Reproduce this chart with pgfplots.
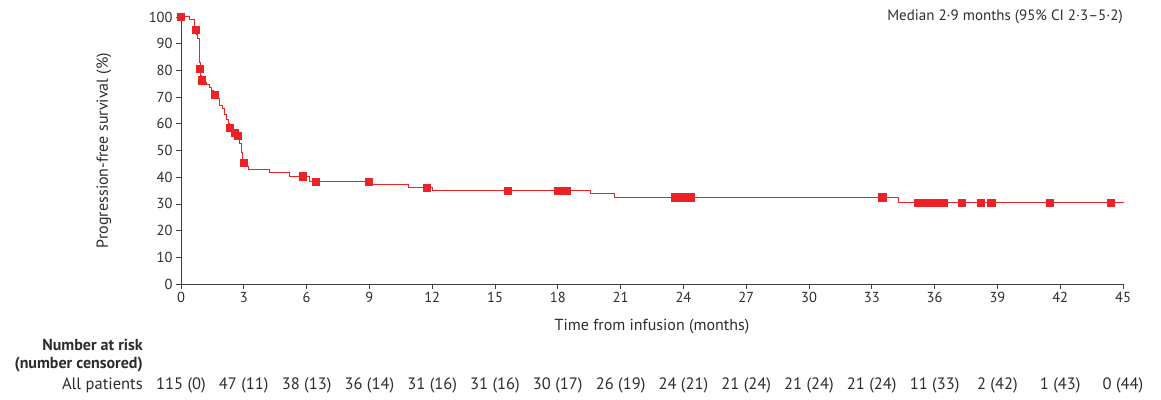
\documentclass[border=0pt]{standalone}
\usepackage{fontspec}
\setmainfont{PT Sans}
\usepackage{pgfplots}
\pgfplotsset{compat=1.18}
\definecolor{kmred}{RGB}{236,34,39}
\definecolor{axgray}{RGB}{64,64,64}
\definecolor{txt}{RGB}{45,45,45}
\newcommand{\tfont}{\fontsize{16.5}{19}\selectfont}
\newcommand{\risk}[2]{\node[anchor=center,text=txt,inner sep=0pt,font=\tfont] at ([yshift=-101pt]axis cs:#1,0) {#2};}
\begin{document}
\begin{tikzpicture}[font=\fontsize{14.5}{17}\selectfont]
\begin{axis}[
  scale only axis, width=942pt, height=267pt,
  xmin=0, xmax=45, ymin=0, ymax=100,
  axis lines=left, axis line style={axgray, line width=0.8pt, -},
  xtick={0,3,...,45}, ytick={0,10,...,100},
  tick align=outside, major tick length=5pt,
  tick style={axgray, line width=0.8pt},
  every tick label/.append style={text=txt, font=\fontsize{14.5}{17}\selectfont},
  /pgf/number format/assume math mode=true,
  xlabel={Time from infusion (months)},
  ylabel={Progression-free survival (\%)},
  xlabel style={at={(axis description cs:0.5,0)}, anchor=center, yshift=-43pt, text=txt, font=\fontsize{16}{18}\selectfont},
  ylabel style={at={(axis description cs:-0.0817,0.5)}, anchor=center, text=txt, font=\fontsize{16}{18}\selectfont},
  clip=false,
]
\addplot[kmred, line width=1pt, const plot mark left, mark=none] table {
x y
0 100
0.40 99.0
0.64 95.2
0.75 93.5
0.80 92
0.86 90.5
0.88 87
0.90 83
0.91 80.6
0.95 78
0.99 76.3
1.07 75.6
1.23 74.6
1.35 73.7
1.45 72.5
1.55 71.7
1.60 70.8
1.78 69.3
1.86 67.0
1.99 65.8
2.10 63.6
2.18 61.7
2.28 60.0
2.32 58.6
2.50 57.6
2.56 56.6
2.66 55.4
2.80 52.8
2.88 49.1
2.95 45.3
3.13 44.0
3.23 42.8
4.22 41.8
5.16 40.4
6.16 38.3
9.10 37.3
10.86 36.2
12.00 35.0
19.54 33.8
20.70 32.5
34.27 30.6
45.05 30.6
};
\addplot[only marks, mark=square*, mark size=3.6pt, mark options={fill=kmred, draw=kmred}] table {
x y
0 100
0.70 95.2
0.91 80.6
0.99 76.3
1.62 70.8
2.34 58.6
2.58 56.6
2.71 55.4
3.01 45.3
5.81 40.4
6.43 38.3
8.98 38.3
11.74 36.2
15.60 35.0
17.98 35.0
18.40 35.0
23.60 32.5
23.85 32.5
24.10 32.5
24.35 32.5
33.50 32.5
35.20 30.6
35.45 30.6
35.70 30.6
35.95 30.6
36.20 30.6
36.45 30.6
37.30 30.6
38.20 30.6
38.70 30.6
41.50 30.6
44.40 30.6
};
\node[anchor=east, inner sep=0pt, text=txt, font=\fontsize{15}{18}\selectfont] at (axis cs:45,100) {Median 2·9 months (95\% CI 2·3–5·2)};
\node[anchor=east, inner sep=0pt, text=txt, font=\fontsize{16}{19}\selectfont\bfseries] at ([xshift=-38pt,yshift=-61pt]axis cs:0,0) {Number at risk};
\node[anchor=east, inner sep=0pt, text=txt, font=\fontsize{16}{19}\selectfont\bfseries] at ([xshift=-38pt,yshift=-81pt]axis cs:0,0) {(number censored)};
\node[anchor=east, inner sep=0pt, text=txt, font=\tfont] at ([xshift=-38pt,yshift=-101pt]axis cs:0,0) {All patients};
\risk{0}{115 (0)}
\risk{3}{47 (11)}
\risk{6}{38 (13)}
\risk{9}{36 (14)}
\risk{12}{31 (16)}
\risk{15}{31 (16)}
\risk{18}{30 (17)}
\risk{21}{26 (19)}
\risk{24}{24 (21)}
\risk{27}{21 (24)}
\risk{30}{21 (24)}
\risk{33}{21 (24)}
\risk{36}{11 (33)}
\risk{39}{2 (42)}
\risk{42}{1 (43)}
\risk{45}{0 (44)}
\path ([shift={(-181pt,-115pt)}]axis cs:0,0) rectangle ([shift={(980pt,284pt)}]axis cs:0,0);
\end{axis}
\end{tikzpicture}
\end{document}
